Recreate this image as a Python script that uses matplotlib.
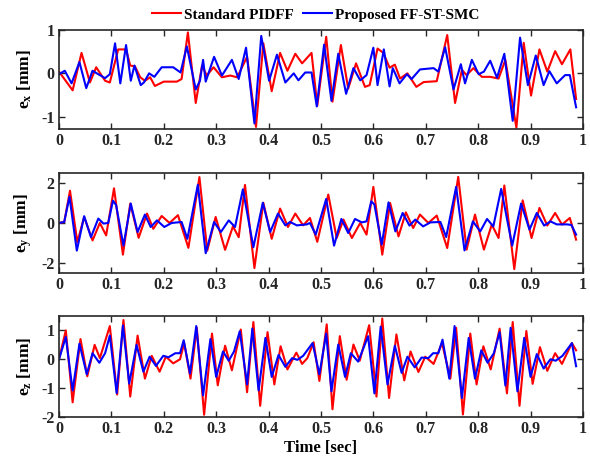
import numpy as np
import matplotlib
matplotlib.use('Agg')
import matplotlib.pyplot as plt

# tracking errors along each axis, (time [s], error [mm]) pairs
ex_pid = np.array([
    (0.000, 0.04), (0.026, -0.39), (0.043, 0.47), (0.059, -0.21), (0.071, 0.14), (0.088, -0.17),
    (0.097, -0.21), (0.113, 0.55), (0.128, 0.55), (0.136, 0.18), (0.145, 0.16), (0.155, -0.09),
    (0.164, -0.17), (0.174, -0.09), (0.183, -0.29), (0.200, -0.19), (0.225, -0.19), (0.234, -0.13),
    (0.246, 0.94), (0.261, -0.68), (0.273, 0.18), (0.282, -0.05), (0.295, 0.14), (0.311, -0.09),
    (0.327, -0.05), (0.340, -0.09), (0.359, 0.38), (0.376, -1.23), (0.390, 0.69), (0.406, -0.41),
    (0.422, 0.47), (0.436, 0.06), (0.451, 0.45), (0.464, 0.23), (0.482, 0.47), (0.493, -0.74),
    (0.510, 0.84), (0.522, -0.65), (0.538, 0.65), (0.552, -0.35), (0.567, 0.23), (0.584, -0.31),
    (0.593, -0.27), (0.608, 0.57), (0.619, 0.47), (0.631, 0.13), (0.641, 0.20), (0.651, -0.12),
    (0.665, 0.00), (0.682, -0.31), (0.696, -0.20), (0.721, -0.18), (0.741, 0.88), (0.756, -0.68),
    (0.769, 0.08), (0.778, -0.04), (0.791, 0.12), (0.807, -0.08), (0.823, -0.08), (0.839, -0.12),
    (0.852, 0.31), (0.873, -1.25), (0.887, 0.70), (0.901, -0.51), (0.917, 0.55), (0.932, 0.04),
    (0.947, 0.51), (0.960, 0.21), (0.976, 0.55), (0.987, -0.59)])
ex_smc = np.array([
    (0.000, -0.02), (0.011, 0.06), (0.024, -0.23), (0.039, 0.26), (0.052, -0.34), (0.064, 0.06),
    (0.075, -0.02), (0.088, -0.11), (0.097, -0.02), (0.107, 0.69), (0.117, -0.23), (0.128, 0.65),
    (0.137, -0.17), (0.144, 0.18), (0.156, -0.27), (0.162, -0.21), (0.172, 0.00), (0.182, -0.08),
    (0.196, 0.14), (0.218, 0.14), (0.232, 0.02), (0.244, 0.62), (0.261, -0.37), (0.269, -0.17),
    (0.275, 0.31), (0.280, -0.19), (0.296, 0.38), (0.311, -0.05), (0.330, 0.31), (0.343, -0.13),
    (0.357, 0.59), (0.373, -1.15), (0.386, 0.86), (0.401, -0.17), (0.416, 0.43), (0.432, -0.21),
    (0.448, 0.00), (0.457, -0.16), (0.470, 0.02), (0.482, 0.02), (0.492, -0.76), (0.506, 0.66),
    (0.520, -0.63), (0.533, 0.45), (0.548, -0.47), (0.562, 0.12), (0.575, -0.16), (0.587, -0.04),
    (0.600, 0.59), (0.608, -0.27), (0.620, 0.55), (0.631, -0.30), (0.637, 0.12), (0.650, -0.23),
    (0.664, -0.02), (0.673, -0.13), (0.689, 0.09), (0.715, 0.12), (0.724, 0.04), (0.737, 0.60),
    (0.753, -0.37), (0.767, 0.21), (0.775, -0.23), (0.788, 0.31), (0.801, -0.02), (0.811, 0.04),
    (0.823, 0.29), (0.836, -0.10), (0.850, 0.45), (0.866, -1.09), (0.880, 0.82), (0.895, -0.27),
    (0.910, 0.41), (0.925, -0.27), (0.936, 0.05), (0.950, -0.23), (0.966, -0.04), (0.975, -0.04),
    (0.987, -0.78)])

ey_pid = np.array([
    (0.000, 0.00), (0.010, 0.05), (0.021, 1.61), (0.035, -0.96), (0.048, 0.30), (0.064, -0.87),
    (0.078, 0.00), (0.090, -0.62), (0.105, 1.73), (0.122, -1.58), (0.136, 0.97), (0.152, -0.74),
    (0.168, 0.47), (0.180, -0.29), (0.196, 0.35), (0.211, 0.00), (0.227, 0.39), (0.247, -1.24),
    (0.268, 2.29), (0.283, -1.38), (0.299, 0.30), (0.317, -1.34), (0.332, -0.17), (0.343, -0.71),
    (0.355, 1.90), (0.373, -2.25), (0.390, 1.01), (0.406, -0.79), (0.422, 0.72), (0.437, -0.20),
    (0.451, 0.47), (0.466, -0.12), (0.479, 0.25), (0.493, -0.94), (0.514, 1.42), (0.530, -0.75),
    (0.543, 0.17), (0.559, -0.75), (0.575, 0.00), (0.587, -0.58), (0.600, 1.80), (0.617, -1.58),
    (0.632, 1.00), (0.648, -0.67), (0.662, 0.53), (0.676, -0.25), (0.689, 0.42), (0.705, 0.00),
    (0.721, 0.37), (0.741, -1.25), (0.762, 2.30), (0.778, -1.33), (0.794, 0.42), (0.811, -1.33),
    (0.826, -0.08), (0.839, -0.75), (0.850, 1.87), (0.869, -2.30), (0.885, 1.13), (0.902, -0.75),
    (0.917, 0.75), (0.932, -0.13), (0.947, 0.50), (0.960, -0.08), (0.975, 0.25), (0.987, -0.83)])
ey_smc = np.array([
    (0.000, 0.00), (0.010, 0.05), (0.020, 1.31), (0.034, -1.38), (0.048, 0.34), (0.061, -0.71),
    (0.075, 0.22), (0.085, -0.03), (0.094, 0.00), (0.103, 1.11), (0.109, 0.89), (0.123, -1.13),
    (0.137, 0.97), (0.150, -0.45), (0.164, 0.42), (0.175, -0.20), (0.187, 0.13), (0.201, -0.20),
    (0.215, 0.00), (0.234, 0.05), (0.245, -0.79), (0.265, 1.90), (0.280, -1.51), (0.296, 0.05),
    (0.309, -0.45), (0.324, 0.13), (0.336, -0.20), (0.351, 1.68), (0.371, -1.21), (0.389, 1.01),
    (0.403, -0.45), (0.418, 0.47), (0.432, -0.12), (0.441, 0.05), (0.454, -0.12), (0.473, -0.07),
    (0.479, 0.00), (0.490, -0.58), (0.510, 1.20), (0.525, -1.13), (0.539, 0.20), (0.552, -0.50),
    (0.565, 0.20), (0.578, 0.03), (0.587, 0.08), (0.596, 1.08), (0.602, 0.92), (0.616, -1.08),
    (0.629, 1.03), (0.642, -0.42), (0.656, 0.50), (0.669, -0.13), (0.680, 0.17), (0.695, -0.17),
    (0.709, 0.03), (0.728, 0.05), (0.739, -0.70), (0.758, 1.80), (0.774, -1.37), (0.790, 0.08),
    (0.804, -0.42), (0.817, 0.20), (0.829, -0.17), (0.844, 1.70), (0.865, -1.13), (0.882, 0.97),
    (0.898, -0.33), (0.912, 0.50), (0.926, -0.13), (0.938, 0.08), (0.950, -0.07), (0.970, -0.07),
    (0.978, -0.10), (0.987, -0.58)])

ez_pid = np.array([
    (0.000, 0.00), (0.013, 1.00), (0.026, -1.49), (0.041, 0.70), (0.054, -0.59), (0.068, 0.50),
    (0.078, 0.04), (0.097, 1.15), (0.111, -1.22), (0.123, 1.36), (0.136, -1.29), (0.150, 0.82),
    (0.164, -0.67), (0.177, 0.12), (0.192, -0.43), (0.204, 0.09), (0.218, -0.14), (0.231, 0.00),
    (0.239, 0.56), (0.251, -0.67), (0.263, 1.09), (0.277, -1.92), (0.292, 0.89), (0.303, -0.90),
    (0.317, 0.47), (0.330, -0.38), (0.347, 1.03), (0.359, -1.14), (0.371, 1.29), (0.384, -1.61),
    (0.398, 0.94), (0.411, -0.87), (0.423, 0.45), (0.436, -0.35), (0.453, 0.23), (0.464, -0.16),
    (0.474, 0.04), (0.486, 0.59), (0.497, -0.75), (0.511, 1.21), (0.522, -1.73), (0.536, 0.80),
    (0.549, -0.71), (0.562, 0.51), (0.574, -0.05), (0.592, 1.18), (0.606, -1.29), (0.617, 1.41),
    (0.630, -1.34), (0.644, 0.86), (0.659, -0.73), (0.671, 0.27), (0.686, -0.44), (0.699, 0.09),
    (0.715, -0.16), (0.731, 0.56), (0.747, -0.67), (0.758, 1.09), (0.771, -1.91), (0.785, 0.89),
    (0.797, -0.87), (0.810, 0.45), (0.824, -0.35), (0.841, 1.06), (0.855, -1.18), (0.866, 1.29),
    (0.879, -1.61), (0.892, 0.98), (0.904, -0.85), (0.918, 0.42), (0.932, -0.40), (0.947, 0.21),
    (0.960, -0.16), (0.979, 0.56), (0.987, 0.31)])
ez_smc = np.array([
    (0.000, 0.00), (0.013, 0.77), (0.026, -1.08), (0.039, 0.54), (0.053, -0.52), (0.064, 0.21),
    (0.077, -0.12), (0.088, 0.21), (0.097, 0.82), (0.110, -1.17), (0.122, 1.17), (0.134, -0.84),
    (0.148, 0.50), (0.161, -0.43), (0.173, 0.09), (0.185, -0.23), (0.199, 0.12), (0.209, 0.07),
    (0.222, 0.21), (0.231, 0.21), (0.238, 0.66), (0.250, -0.49), (0.262, 1.15), (0.275, -1.25),
    (0.289, 0.70), (0.300, -0.61), (0.313, 0.27), (0.324, -0.05), (0.334, 0.27), (0.345, 0.97),
    (0.359, -0.87), (0.369, 1.06), (0.381, -1.08), (0.394, 0.74), (0.406, -0.61), (0.419, 0.15),
    (0.432, -0.26), (0.445, 0.04), (0.455, -0.02), (0.466, 0.12), (0.484, 0.56), (0.497, -0.52),
    (0.510, 0.89), (0.520, -1.11), (0.533, 0.51), (0.546, -0.61), (0.557, 0.21), (0.571, -0.08),
    (0.590, 0.80), (0.602, -1.18), (0.614, 1.13), (0.627, -0.87), (0.641, 0.47), (0.654, -0.47),
    (0.665, 0.09), (0.679, -0.28), (0.692, 0.06), (0.705, 0.04), (0.714, 0.21), (0.724, 0.21),
    (0.732, 0.68), (0.745, -0.67), (0.755, 1.15), (0.769, -1.34), (0.782, 0.74), (0.794, -0.67),
    (0.806, 0.31), (0.818, -0.12), (0.830, 0.21), (0.841, 0.94), (0.852, -0.91), (0.862, 1.09),
    (0.875, -1.11), (0.888, 0.74), (0.900, -0.61), (0.912, 0.18), (0.925, -0.32), (0.938, 0.00),
    (0.948, -0.05), (0.961, 0.12), (0.979, 0.56), (0.987, -0.24)])

axis_names = ['x', 'y', 'z']
pid_series = [ex_pid, ey_pid, ez_pid]
smc_series = [ex_smc, ey_smc, ez_smc]
y_limits = [(-1.28, 1.0), (-2.5, 2.5), (-2.0, 1.5)]
y_ticks = [[-1, 0, 1], [-2, 0, 2], [-2, -1, 0, 1]]
x_ticks = np.round(np.arange(0, 1.01, 0.1), 1)
x_ticklabels = ['0'] + ['%.1f' % v for v in x_ticks[1:-1]] + ['1']

plt.rcParams['font.family'] = 'Liberation Serif'
plt.rcParams['font.weight'] = 'bold'
plt.rcParams['axes.unicode_minus'] = False
plt.rcParams['mathtext.fontset'] = 'custom'
plt.rcParams['mathtext.rm'] = 'Liberation Serif:bold'
plt.rcParams['mathtext.it'] = 'Liberation Serif:bold'

fig = plt.figure(figsize=(5.9, 4.66), dpi=100)

# axes boxes: [left, bottom, width, height] in figure fraction
boxes = [[0.100, 0.723, 0.888, 0.213],
         [0.100, 0.414, 0.888, 0.215],
         [0.100, 0.105, 0.888, 0.217]]

for k in range(3):
    ax = fig.add_axes(boxes[k])
    pid = pid_series[k]
    smc = smc_series[k]
    l1, = ax.plot(pid[:, 0], pid[:, 1], color='r', linewidth=1.5, label='Standard PIDFF')
    l2, = ax.plot(smc[:, 0], smc[:, 1], color='b', linewidth=1.5, label='Proposed FF-ST-SMC')

    ax.set_xlim(0, 1)
    ax.set_ylim(y_limits[k])
    ax.set_xticks(x_ticks)
    ax.set_xticklabels(x_ticklabels)
    ax.set_yticks(y_ticks[k])
    ax.tick_params(direction='in', length=4, width=1.0, top=True, right=True,
                   labelsize=11.5, pad=3, colors='#262626')
    for s in ax.spines.values():
        s.set_linewidth(1.2)
        s.set_color('#262626')
    ax.set_ylabel(r'e$_\mathrm{%s}$ [mm]' % axis_names[k], fontsize=12.5, fontweight='bold')
    ax.yaxis.set_label_coords(-0.047, 0.5)

    if k == 2:
        ax.set_xlabel('Time [sec]', fontsize=12, fontweight='bold', labelpad=2)

fig.legend(handles=[l1, l2], loc='center', bbox_to_anchor=(0.535, 0.968), ncol=2,
           frameon=False, fontsize=11, handlelength=1.9, handletextpad=0.2,
           columnspacing=0.6)

fig.savefig('out.png', dpi=100)
